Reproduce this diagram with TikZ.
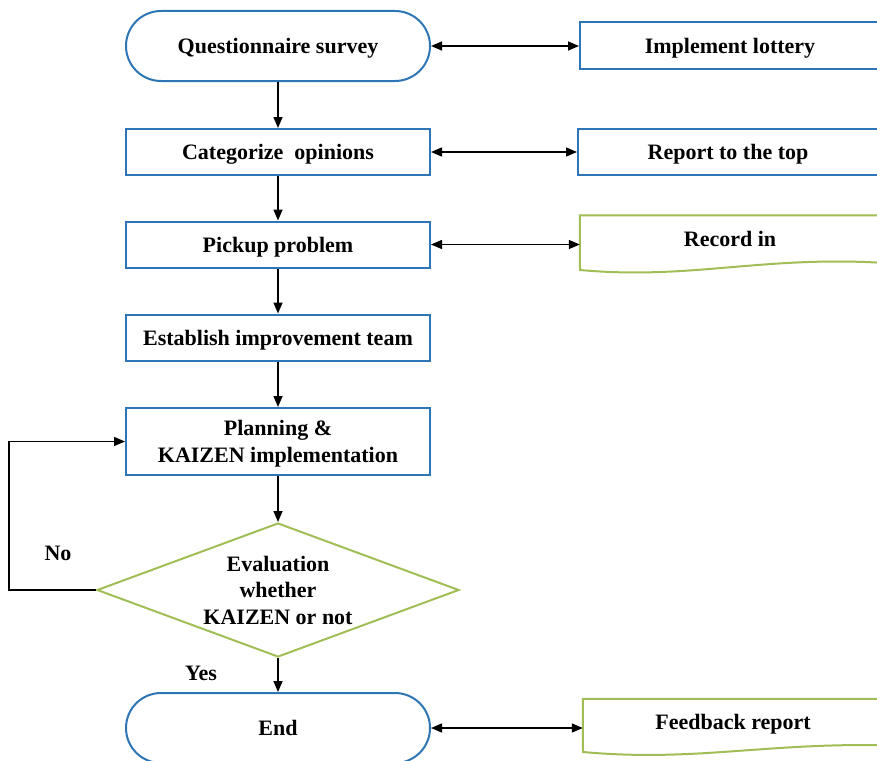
\documentclass[tikz,border=0pt]{standalone}
\usepackage{fontspec}
\setmainfont{Liberation Serif}
\usetikzlibrary{shapes.misc,shapes.geometric,arrows.meta}
\definecolor{myblue}{RGB}{46,117,182}
\definecolor{mygreen}{RGB}{160,190,85}
\begin{document}
\begin{tikzpicture}[x=1pt,y=-1pt,
  every node/.style={font=\fontsize{22}{26.5}\selectfont\bfseries, align=center, inner sep=0pt, text depth=0pt},
  term/.style={rounded rectangle, draw=myblue, line width=2pt, minimum width=304pt, minimum height=70pt},
  proc/.style={rectangle, draw=myblue, line width=2pt, minimum width=304pt, minimum height=46pt},
  side/.style={rectangle, draw=myblue, line width=2pt, minimum width=300pt, minimum height=46pt},
  docarea/.style={rectangle, minimum width=300pt, minimum height=47pt},
  docline/.style={draw=mygreen, line width=2pt},
  dec/.style={diamond, aspect=2.7, draw=mygreen, line width=2pt, minimum width=362pt, minimum height=134pt},
  arr/.style={draw=black, line width=1.5pt, -{Triangle[length=11pt,width=9pt]}},
  darr/.style={draw=black, line width=1.5pt, {Triangle[length=11pt,width=9pt]}-{Triangle[length=11pt,width=9pt]}}
]
\useasboundingbox (0,0) rectangle (877,760);
% main column
\node[term] (q) at (278,46) {Questionnaire survey};
\node[proc] (cat) at (278,152) {Categorize\ \ opinions};
\node[proc] (pick) at (278,244.5) {Pickup problem};
\node[proc] (team) at (278,337.5) {Establish improvement team};
\node[proc, minimum height=67pt] (plan) at (278,441.5) {Planning \&\\KAIZEN implementation};
\node[dec] (eval) at (278,590) {Evaluation\\whether\\KAIZEN or not};
\node[term] (end) at (278,728) {End};
% side boxes
\node[side] (lot) at (730,45.5) {Implement lottery};
\node[side] (top) at (728,151.5) {Report to the top};
\node[docarea] (rec) at (730,239) {Record in};
\draw[docline] (rec.south east) -- (rec.north east) -- (rec.north west) -- (580,270)
  .. controls (690,280) and (760,256) .. (rec.south east);
\node[docarea, minimum height=46pt] (fb) at (733,722) {Feedback report};
\draw[docline] (fb.south east) -- (fb.north east) -- (fb.north west) -- (583,752)
  .. controls (693,762) and (763,743) .. (fb.south east);
% labels
\node (no) at (58,553) {No};
\node (yes) at (201,673) {Yes};
% connectors
\draw[arr] (q) -- (cat);
\draw[arr] (cat) -- (pick);
\draw[arr] (pick) -- (team);
\draw[arr] (team) -- (plan);
\draw[arr] (plan) -- (eval);
\draw[arr] (eval) -- (end);
\draw[arr] (eval.west) -- ++(-87,0) |- (plan.west);
\draw[darr] (q.east) -- (q.east -| lot.west);
\draw[darr] (cat.east) -- (cat.east -| top.west);
\draw[darr] (pick.east) -- (pick.east -| rec.west);
\draw[darr] (end.east) -- (end.east -| fb.west);
\end{tikzpicture}
\end{document}
